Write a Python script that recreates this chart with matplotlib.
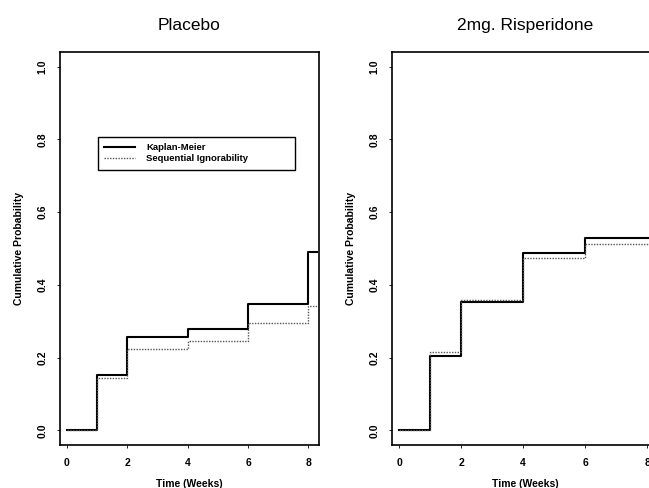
import matplotlib
matplotlib.use("Agg")
import matplotlib.pyplot as plt

plt.rcParams['font.family'] = ['Liberation Sans', 'DejaVu Sans']

# Data
weeks_placebo = [0, 1, 2, 4, 6, 8, 8.3]
km_placebo = [0.0, 0.152, 0.258, 0.280, 0.348, 0.490, 0.490]
si_placebo = [0.0, 0.143, 0.225, 0.245, 0.294, 0.343, 0.343]

weeks_risp = [0, 1, 2, 4, 6, 8.4]
km_risp = [0.0, 0.205, 0.352, 0.487, 0.530, 0.530]
si_risp = [0.0, 0.216, 0.359, 0.474, 0.512, 0.512]

titles = ["Placebo", "2mg. Risperidone"]
legend_labels = ["Kaplan-Meier", "Sequential Ignorability"]
x_ticks = [0, 2, 4, 6, 8]
y_ticks = [0.0, 0.2, 0.4, 0.6, 0.8, 1.0]

W, H = 649, 488
fig = plt.figure(figsize=(W / 100, H / 100), dpi=100)

def make_ax(left_px, right_px):
    top_px, bot_px = 52, 445
    return fig.add_axes([left_px / W, 1 - bot_px / H,
                         (right_px - left_px) / W, (bot_px - top_px) / H])

ax1 = make_ax(60, 319)
ax2 = make_ax(392, 658)

panels = [
    (ax1, weeks_placebo, km_placebo, si_placebo, titles[0]),
    (ax2, weeks_risp, km_risp, si_risp, titles[1]),
]

for ax, t, km, si, title in panels:
    l1, = ax.step(t, km, where='post', color='black', linewidth=1.5)
    l2, = ax.step(t, si, where='post', color='#555555', linewidth=1.0,
                  linestyle=(0, (1, 1)))
    ax.set_xlim(-0.23, 8.35)
    ax.set_ylim(-0.04, 1.04)
    ax.set_xticks(x_ticks)
    ax.set_yticks(y_ticks)
    ax.set_xticklabels([str(v) for v in x_ticks], fontsize=7.5, fontweight='bold')
    ax.set_yticklabels([f"{v:.1f}" for v in y_ticks], fontsize=7.5,
                       fontweight='bold', rotation=90, va='center')
    ax.tick_params(axis='both', length=2, width=0.6, pad=7)
    for s in ax.spines.values():
        s.set_linewidth(1.2)
    ax.set_title(title, fontsize=12.5, pad=16)
    ax.set_xlabel("Time (Weeks)", fontsize=7.5, fontweight='bold', labelpad=8)
    ax.set_ylabel("Cumulative Probability", fontsize=7.5, fontweight='bold', labelpad=10)
    if ax is ax1:
        leg = ax.legend([l1, l2], legend_labels, loc='upper left',
                        bbox_to_anchor=(0.146, 0.784, 0.76, 0.0), mode='expand',
                        fancybox=False, framealpha=1, edgecolor='black',
                        prop={'size': 6.8, 'weight': 'bold'},
                        handlelength=3.2, handletextpad=1.2, borderpad=0.7,
                        labelspacing=0.2, borderaxespad=0)
        leg.get_frame().set_linewidth(1.0)

fig.savefig("out.png", dpi=100)
